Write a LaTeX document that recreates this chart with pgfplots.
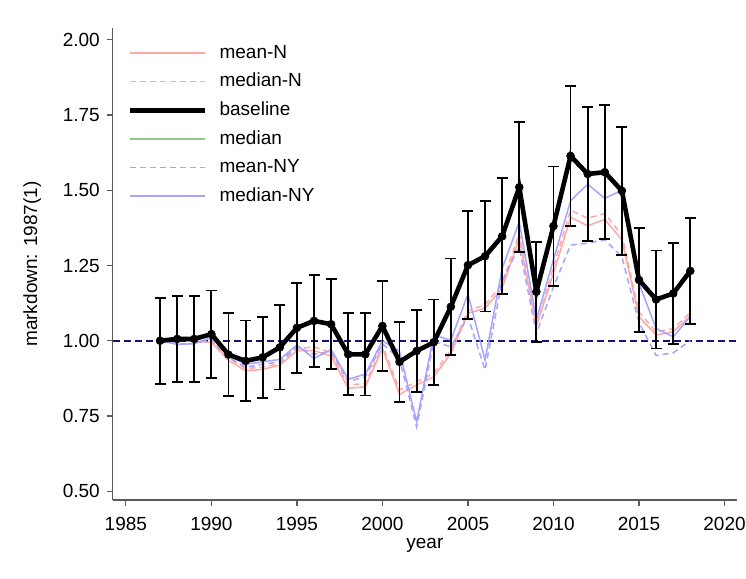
\documentclass[border=0pt]{standalone}
\usepackage{fontspec}
\setmainfont{Liberation Sans}
\usepackage{pgfplots}
\pgfplotsset{compat=1.18}
\usepackage{pgfplotstable}

\pgfplotstableread{
year base err meanN medianN meanNY medianNY
1987 1.000 0.143 1.000 1.000 1.000 1.000
1988 1.006 0.144 1.005 1.008 0.990 0.988
1989 1.006 0.144 0.998 1.002 0.990 0.990
1990 1.022 0.145 0.995 1.000 1.005 1.010
1991 0.954 0.137 0.935 0.942 0.945 0.950
1992 0.933 0.134 0.900 0.908 0.912 0.922
1993 0.945 0.135 0.905 0.912 0.922 0.930
1994 0.978 0.140 0.919 0.925 0.930 0.938
1995 1.043 0.150 0.967 0.973 0.980 0.986
1996 1.066 0.153 0.967 0.980 0.955 0.941
1997 1.055 0.150 0.949 0.960 0.965 0.971
1998 0.955 0.136 0.842 0.853 0.865 0.872
1999 0.955 0.137 0.847 0.858 0.880 0.889
2000 1.049 0.149 0.975 0.985 0.990 1.000
2001 0.930 0.133 0.822 0.836 0.940 0.965
2002 0.966 0.137 0.853 0.864 0.714 0.731
2003 0.995 0.142 0.880 0.892 0.997 1.019
2004 1.113 0.160 0.958 0.969 0.980 1.002
2005 1.251 0.180 1.091 1.100 1.080 1.155
2006 1.281 0.184 1.108 1.119 0.903 0.936
2007 1.347 0.193 1.175 1.190 1.200 1.240
2008 1.510 0.216 1.340 1.357 1.312 1.395
2009 1.163 0.166 1.050 1.045 1.025 1.070
2010 1.381 0.198 1.224 1.246 1.179 1.270
2011 1.614 0.233 1.410 1.434 1.318 1.465
2012 1.554 0.223 1.382 1.407 1.324 1.520
2013 1.560 0.222 1.403 1.423 1.335 1.473
2014 1.498 0.213 1.335 1.351 1.279 1.500
2015 1.202 0.172 1.080 1.095 1.060 1.190
2016 1.137 0.163 1.019 1.030 0.951 1.041
2017 1.157 0.167 1.030 1.040 0.960 1.013
2018 1.232 0.176 1.082 1.093 1.000 1.080
}\data

\definecolor{lred}{RGB}{255,168,168}
\definecolor{lblue}{RGB}{165,165,255}
\definecolor{lgreen}{RGB}{140,200,140}
\definecolor{ynavy}{RGB}{20,20,120}
\definecolor{axgray}{RGB}{90,90,90}

\begin{document}
\fontsize{19bp}{23bp}\selectfont
\begin{tikzpicture}
\useasboundingbox (0,0) rectangle (746bp,579bp);
\begin{axis}[
  at={(112.7bp,79bp)}, anchor=south west,
  scale only axis, width=624.3bp, height=472bp,
  xmin=1984.23, xmax=2020.73, ymin=0.471, ymax=2.039,
  axis x line*=bottom, axis y line*=left,
  axis line style={draw=axgray, line width=1.2bp, -},
  every tick/.style={draw=axgray, line width=1.2bp},
  tick align=outside, major tick length=6bp,
  xtick={1985,1990,1995,2000,2005,2010,2015,2020},
  ytick={0.5,0.75,1.0,1.25,1.5,1.75,2.0},
  /pgf/number format/assume math mode=true,
  tick label style={font=\fontsize{19bp}{23bp}\selectfont},
  xticklabel style={/pgf/number format/1000 sep={}, anchor=north, inner sep=0pt, yshift=-11bp},
  yticklabel style={/pgf/number format/fixed, /pgf/number format/fixed zerofill, /pgf/number format/precision=2, anchor=east, inner sep=0pt, xshift=-6.7bp},
  xlabel={year}, ylabel={markdown: 1987(1)},
  label style={font=\fontsize{19bp}{23bp}\selectfont},
  xlabel style={at={(axis description cs:0.5,-0.1017)}, anchor=base},
  ylabel style={at={(axis description cs:-0.121,0.5)}, anchor=base},
  legend image code/.code={\draw[#1] (0bp,0bp) -- (75bp,0bp);},
  legend cell align=left,
  legend style={at={(axis description cs:0.0245,0.9640)}, anchor=north west,
    draw=none, fill=none, inner sep=0pt, outer sep=0pt,
    nodes={inner sep=0pt, outer sep=0pt},
    font=\fontsize{19bp}{23bp}\selectfont,
    row sep=12.2bp,
    /tikz/every odd column/.append style={column sep=12bp}},
]
\addlegendimage{lred, line width=1.5bp}\addlegendentry{mean-N}
\addlegendimage{lred, line width=1.5bp, dash pattern=on 6bp off 4bp}\addlegendentry{median-N}
\addlegendimage{black, line width=4.6bp}\addlegendentry{baseline}
\addlegendimage{lgreen, line width=1.6bp}\addlegendentry{median}
\addlegendimage{lblue, line width=1.5bp, dash pattern=on 6bp off 4bp}\addlegendentry{mean-NY}
\addlegendimage{lblue, line width=1.5bp}\addlegendentry{median-NY}

\addplot[ynavy, line width=1.6bp, dash pattern=on 7bp off 4bp, forget plot] coordinates {(1984.23,1) (2020.73,1)};
\addplot[lred, line width=1.5bp, forget plot] table[x=year,y=meanN]{\data};
\addplot[lred, line width=1.5bp, dash pattern=on 6bp off 4bp, forget plot] table[x=year,y=medianN]{\data};
\addplot[lblue, line width=1.5bp, dash pattern=on 6bp off 4bp, forget plot] table[x=year,y=meanNY]{\data};
\addplot[lblue, line width=1.5bp, forget plot] table[x=year,y=medianNY]{\data};
\addplot[black, only marks, mark=none, forget plot,
  error bars/.cd, y dir=both, y explicit, error mark=-,
  error bar style={draw=black, line width=1.8bp, solid},
  error mark options={draw=black, line width=1.8bp, mark size=5.5bp, solid, rotate=90}]
  table[x=year, y=base, y error=err]{\data};
\addplot[lgreen, line width=1.5bp, forget plot] table[x=year,y=base]{\data};
\addplot[black, line width=4.6bp, mark=*, mark size=4bp, mark options={solid, line width=0.5bp}, forget plot] table[x=year,y=base]{\data};
\end{axis}
\end{tikzpicture}
\end{document}
